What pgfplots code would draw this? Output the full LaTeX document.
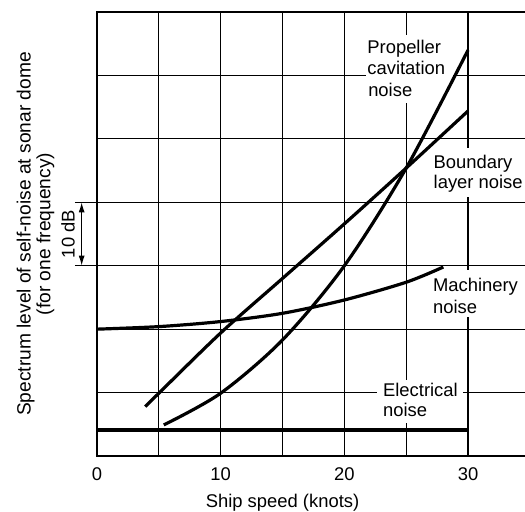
\documentclass[border=0pt]{standalone}
\usepackage{fontspec}
\setmainfont{Liberation Sans}
\usepackage{pgfplots}
\pgfplotsset{compat=1.18}
\usetikzlibrary{arrows.meta}

% Self-noise components versus ship speed (dB, arbitrary reference)
\begin{document}
\begin{tikzpicture}[font=\fontsize{9.2}{10.75}\selectfont]
\begin{axis}[
  at={(0,0)}, anchor=south west,
  scale only axis,
  width=215.2pt, height=222pt,
  xmin=0, xmax=34.8, ymin=0, ymax=70,
  xtick={0,10,20,30}, minor xtick={5,15,25},
  ytick={10,20,...,60}, yticklabel=\empty,
  grid=both,
  major grid style={line width=0.62pt, black},
  minor grid style={line width=0.62pt, black},
  major tick length=0pt, minor tick length=0pt,
  axis line style={line width=0.95pt},
  xticklabel style={anchor=base, yshift=-12pt},
  /pgf/number format/assume math mode=true,
  clip=false,
]
% white patches behind the curve labels
\fill[white] (axis cs:21.75,55.65) rectangle (axis cs:28.78,66.4);
\fill[white] (axis cs:27.10,40.8) rectangle (axis cs:35.5,48.6);
\fill[white] (axis cs:27.10,21.9) rectangle (axis cs:35.5,29.3);
\fill[white] (axis cs:22.60,5.2) rectangle (axis cs:29.60,12.0);

% Electrical noise
\addplot[line width=1.6pt, no marks] coordinates {(0,4.1) (30,4.1)};
% Machinery noise
\addplot[line width=1.6pt, no marks, smooth] coordinates {
  (0,20.0) (5,20.4) (10,21.2) (15,22.5) (20,24.6) (25,27.4) (28,29.8)};
% Boundary layer noise
\addplot[line width=1.6pt, no marks, smooth] coordinates {
  (3.9,7.8) (5,9.9) (10,19.4) (15,28.0) (20,36.6) (25,45.4) (30,54.4)};
% Propeller cavitation noise
\addplot[line width=1.6pt, no marks, smooth] coordinates {
  (5.4,4.9) (10,9.9) (15,18.3) (20,30.0) (25,45.4) (30,64.0)};

% curve labels
\node[anchor=base west, inner sep=0pt] at (axis cs:21.83,63.46) {Propeller};
\node[anchor=base west, inner sep=0pt] at (axis cs:21.83,60.07) {cavitation};
\node[anchor=base west, inner sep=0pt] at (axis cs:21.90,56.68) {noise};
\node[anchor=base west, inner sep=0pt] at (axis cs:27.19,45.40) {Boundary};
\node[anchor=base west, inner sep=0pt] at (axis cs:27.19,42.20) {layer noise};
\node[anchor=base west, inner sep=0pt] at (axis cs:27.14,25.93) {Machinery};
\node[anchor=base west, inner sep=0pt] at (axis cs:27.14,22.54) {noise};
\node[anchor=base west, inner sep=0pt] at (axis cs:23.10,9.38) {Electrical};
\node[anchor=base west, inner sep=0pt] at (axis cs:23.10,6.20) {noise};

% 10 dB scale bar
\draw[line width=0.62pt] (axis cs:-1.78,30) -- (axis cs:0,30);
\draw[line width=0.62pt] (axis cs:-1.78,40) -- (axis cs:0,40);
\draw[line width=0.62pt, {Latex[length=5pt,width=3pt]}-{Latex[length=5pt,width=3pt]}]
  (axis cs:-1.24,30) -- (axis cs:-1.24,40);
\node[rotate=90] at (axis cs:-2.34,35) {10 dB};

% axis titles
\node[rotate=90, align=center, font=\fontsize{9.6}{8.9}\selectfont]
  at (axis cs:-4.97,35) {Spectrum level of self-noise at sonar dome\\(for one frequency)};
\node[anchor=base, yshift=-25.5pt] at (axis cs:15,0) {Ship speed (knots)};
\end{axis}
\pgfresetboundingbox
\path[use as bounding box] (-48.5pt,-27.5pt) rectangle (214pt,228pt);
\end{tikzpicture}
\end{document}
